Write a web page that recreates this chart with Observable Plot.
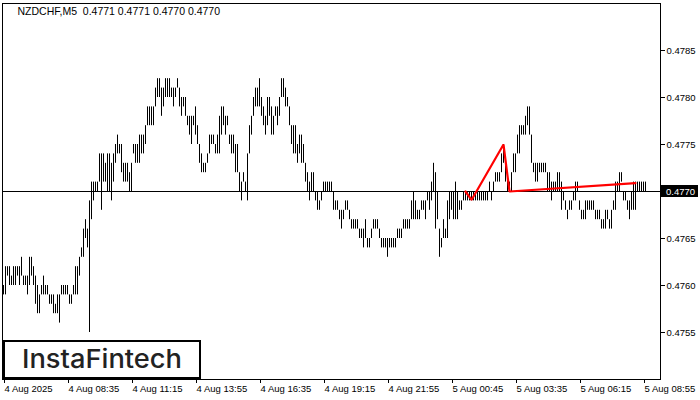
<!DOCTYPE html>
<html>
<head>
<meta charset="utf-8">
<script src="https://cdn.jsdelivr.net/npm/d3@7"></script>
<script src="https://cdn.jsdelivr.net/npm/@observablehq/plot@0.6"></script>
<style>
  html, body { margin: 0; padding: 0; background: #fff; }
  #chart svg { display: block; }
</style>
</head>
<body>
<div id="chart"></div>
<script>
// ---- data (NZDCHF, M5 bars: high / low per bar) ----
const symbolTitle = "NZDCHF,M5";
const lastOHLC = [0.4771, 0.4771, 0.4770, 0.4770];
const currentPrice = 0.4770;

const highs = [
0.4760,0.4762,0.4762,0.4762,0.4761,0.4762,0.4762,0.4762,0.4762,0.4763,
0.4761,0.4761,0.4761,0.4763,0.4763,0.4762,0.4761,0.4760,0.4759,0.4760,
0.4761,0.4760,0.4760,0.4759,0.4759,0.4759,0.4758,0.4759,0.4759,0.4760,
0.4760,0.4760,0.4760,0.4759,0.4759,0.4760,0.4762,0.4762,0.4763,0.4764,
0.4766,0.4767,0.4766,0.4769,0.4771,0.4771,0.4771,0.4771,0.4774,0.4774,
0.4774,0.4773,0.4774,0.4774,0.4773,0.4774,0.4775,0.4776,0.4775,0.4775,
0.4773,0.4773,0.4773,0.4772,0.4773,0.4775,0.4775,0.4775,0.4776,0.4776,
0.4776,0.4777,0.4779,0.4779,0.4779,0.4779,0.4781,0.4782,0.4782,0.4781,
0.4781,0.4782,0.4782,0.4782,0.4781,0.4781,0.4781,0.4782,0.4781,0.4780,
0.4780,0.4780,0.4778,0.4778,0.4778,0.4778,0.4779,0.4777,0.4775,0.4774,
0.4773,0.4773,0.4774,0.4776,0.4776,0.4776,0.4775,0.4776,0.4778,0.4779,
0.4779,0.4778,0.4778,0.4776,0.4776,0.4776,0.4775,0.4775,0.4772,0.4771,
0.4772,0.4771,0.4774,0.4777,0.4778,0.4780,0.4781,0.4781,0.4782,0.4780,
0.4779,0.4778,0.4780,0.4780,0.4779,0.4778,0.4779,0.4779,0.4780,0.4782,
0.4782,0.4781,0.4780,0.4779,0.4777,0.4777,0.4777,0.4775,0.4776,0.4776,
0.4775,0.4773,0.4772,0.4771,0.4772,0.4772,0.4770,0.4770,0.4769,0.4770,
0.4771,0.4771,0.4771,0.4771,0.4771,0.4770,0.4769,0.4769,0.4768,0.4768,
0.4768,0.4769,0.4769,0.4768,0.4767,0.4767,0.4767,0.4767,0.4766,0.4766,
0.4766,0.4767,0.4765,0.4765,0.4766,0.4767,0.4767,0.4767,0.4766,0.4765,
0.4765,0.4765,0.4765,0.4765,0.4765,0.4765,0.4765,0.4766,0.4766,0.4766,
0.4767,0.4767,0.4767,0.4767,0.4769,0.4770,0.4769,0.4768,0.4768,0.4769,
0.4769,0.4769,0.4770,0.4770,0.4771,0.4773,0.4772,0.4770,0.4766,0.4765,
0.4767,0.4766,0.4769,0.4770,0.4770,0.4770,0.4771,0.4770,0.4769,0.4769,
0.4770,0.4770,0.4770,0.4770,0.4770,0.4770,0.4770,0.4770,0.4770,0.4770,
0.4770,0.4770,0.4770,0.4771,0.4770,0.4771,0.4772,0.4772,0.4772,0.4774,
0.4775,0.4773,0.4772,0.4771,0.4772,0.4774,0.4774,0.4776,0.4777,0.4777,
0.4777,0.4778,0.4779,0.4779,0.4776,0.4773,0.4773,0.4773,0.4773,0.4773,
0.4773,0.4773,0.4772,0.4772,0.4771,0.4771,0.4771,0.4772,0.4772,0.4771,
0.4770,0.4769,0.4768,0.4769,0.4769,0.4770,0.4771,0.4771,0.4769,0.4768,
0.4768,0.4769,0.4769,0.4769,0.4769,0.4769,0.4768,0.4768,0.4768,0.4767,
0.4767,0.4768,0.4768,0.4767,0.4768,0.4769,0.4771,0.4771,0.4772,0.4772,
0.4770,0.4770,0.4769,0.4769,0.4770,0.4771,0.4771,0.4771,0.4771,0.4771,
0.4771,0.4771
];

const lows = [
0.4759,0.4759,0.4761,0.4760,0.4760,0.4760,0.4760,0.4761,0.4760,0.4761,
0.4760,0.4760,0.4759,0.4760,0.4761,0.4760,0.4758,0.4757,0.4757,0.4759,
0.4759,0.4759,0.4759,0.4758,0.4758,0.4757,0.4757,0.4757,0.4756,0.4759,
0.4759,0.4759,0.4759,0.4758,0.4758,0.4759,0.4759,0.4759,0.4761,0.4763,
0.4763,0.4765,0.4764,0.4755,0.4767,0.4769,0.4770,0.4770,0.4771,0.4768,
0.4771,0.4771,0.4770,0.4770,0.4769,0.4771,0.4773,0.4774,0.4774,0.4772,
0.4771,0.4771,0.4771,0.4770,0.4770,0.4774,0.4773,0.4773,0.4773,0.4774,
0.4774,0.4775,0.4777,0.4777,0.4777,0.4777,0.4779,0.4780,0.4780,0.4778,
0.4779,0.4780,0.4780,0.4780,0.4780,0.4779,0.4780,0.4781,0.4779,0.4778,
0.4779,0.4778,0.4777,0.4776,0.4775,0.4777,0.4776,0.4775,0.4773,0.4772,
0.4772,0.4772,0.4773,0.4774,0.4775,0.4775,0.4774,0.4774,0.4774,0.4776,
0.4777,0.4776,0.4777,0.4775,0.4774,0.4774,0.4772,0.4772,0.4770,0.4769,
0.4771,0.4770,0.4769,0.4774,0.4776,0.4778,0.4779,0.4779,0.4779,0.4778,
0.4777,0.4776,0.4777,0.4778,0.4776,0.4776,0.4778,0.4777,0.4778,0.4780,
0.4780,0.4779,0.4779,0.4777,0.4775,0.4774,0.4774,0.4773,0.4774,0.4773,
0.4773,0.4771,0.4770,0.4769,0.4770,0.4770,0.4769,0.4768,0.4768,0.4769,
0.4770,0.4770,0.4770,0.4770,0.4770,0.4768,0.4768,0.4768,0.4767,0.4766,
0.4767,0.4768,0.4768,0.4767,0.4766,0.4766,0.4766,0.4766,0.4765,0.4765,
0.4764,0.4765,0.4764,0.4764,0.4765,0.4766,0.4766,0.4766,0.4765,0.4764,
0.4764,0.4764,0.4763,0.4764,0.4764,0.4764,0.4764,0.4765,0.4765,0.4765,
0.4766,0.4766,0.4766,0.4766,0.4767,0.4767,0.4767,0.4767,0.4767,0.4768,
0.4768,0.4767,0.4769,0.4768,0.4769,0.4770,0.4766,0.4767,0.4763,0.4764,
0.4765,0.4765,0.4765,0.4767,0.4768,0.4767,0.4767,0.4767,0.4768,0.4768,
0.4769,0.4769,0.4769,0.4769,0.4769,0.4769,0.4769,0.4769,0.4769,0.4769,
0.4769,0.4769,0.4769,0.4770,0.4769,0.4770,0.4771,0.4771,0.4771,0.4772,
0.4773,0.4771,0.4770,0.4770,0.4770,0.4772,0.4772,0.4774,0.4774,0.4776,
0.4776,0.4776,0.4777,0.4776,0.4773,0.4772,0.4771,0.4771,0.4772,0.4772,
0.4772,0.4772,0.4770,0.4770,0.4769,0.4770,0.4770,0.4770,0.4770,0.4768,
0.4769,0.4768,0.4767,0.4768,0.4768,0.4769,0.4769,0.4770,0.4768,0.4767,
0.4767,0.4767,0.4768,0.4768,0.4768,0.4768,0.4767,0.4767,0.4767,0.4766,
0.4766,0.4766,0.4767,0.4766,0.4766,0.4768,0.4768,0.4770,0.4770,0.4771,
0.4769,0.4769,0.4768,0.4767,0.4768,0.4768,0.4768,0.4770,0.4770,0.4770,
0.4770,0.4770
];

// time-axis ticks (bar index -> label)
const xTickBars = [0, 32, 64, 96, 128, 160, 192, 224, 256, 288, 320];
const xTickLabels = ["4 Aug 2025", "4 Aug 08:35", "4 Aug 11:15", "4 Aug 13:55", "4 Aug 16:35",
  "4 Aug 19:15", "4 Aug 21:55", "5 Aug 00:45", "5 Aug 03:35", "5 Aug 06:15", "5 Aug 08:55"];
const yTicks = [0.4755, 0.4760, 0.4765, 0.4770, 0.4775, 0.4780, 0.4785];

// pattern (red polyline) points: bar index and price
const patternBars = [231, 234, 250, 253, 316];
const patternPrices = [0.4770, 0.47691, 0.4775, 0.4770, 0.47709];

const logoText = "InstaFintech";

// ---- build ----
const bars = highs.map((h, i) => ({ i, high: h, low: lows[i] }));
const pattern = patternBars.map((b, k) => ({ i: b, p: patternPrices[k] }));
const fmt4 = d3.format(".4f");
const titleText = symbolTitle + "  " + lastOHLC.map(fmt4).join(" ");
const FONT = "'Liberation Sans', Arial, sans-serif";

const chart = Plot.plot({
  width: 700,
  height: 400,
  marginTop: 3,
  marginBottom: 21,
  marginLeft: 2,
  marginRight: 40,
  x: { domain: [-0.5, 328.5], axis: null },
  y: { domain: [0.4750, 0.4790], axis: null },
  style: { fontFamily: FONT, fontSize: "9.5px", background: "#fff", color: "#000", overflow: "visible" },
  marks: [
    Plot.ruleY([currentPrice], { stroke: "#000", strokeWidth: 1 }),
    Plot.ruleX(bars, { x: "i", y1: "low", y2: "high", stroke: "#000", strokeWidth: 1 }),
    Plot.line(pattern, { x: "i", y: "p", stroke: "#ff0000", strokeWidth: 2.2, strokeLinejoin: "miter" }),
    Plot.frame({ stroke: "#000", strokeWidth: 1 }),
    Plot.axisY({ anchor: "right", ticks: yTicks, tickFormat: fmt4, tickSize: 4, tickPadding: 2, label: null, fontSize: 9.5 }),
    Plot.axisX({ anchor: "bottom", ticks: xTickBars, tickFormat: d => xTickLabels[xTickBars.indexOf(d)],
      tickSize: 4, tickPadding: 2, textAnchor: "start", dx: 1, label: null, fontSize: 9.5 }),
    Plot.text([titleText], { text: d => d, frameAnchor: "top-left", dx: 15, dy: 4, fontSize: 10.5, fill: "#000", textAnchor: "start" })
  ]
});

document.getElementById("chart").appendChild(chart);

// current price tag on the right axis (covers the 0.4770 tick label)
const svg = d3.select(chart);
const yPx = chart.scale("y").apply(currentPrice);
const tag = svg.append("g").attr("text-anchor", "start");
tag.append("rect").attr("x", 661).attr("y", Math.round(yPx) - 6).attr("width", 37).attr("height", 12).attr("fill", "#000");
tag.append("text").attr("x", 666).attr("y", yPx + 0.5).attr("dy", "0.35em").attr("text-anchor", "start")
  .attr("fill", "#fff").attr("font-family", FONT).attr("font-size", 9.5).text(fmt4(currentPrice));

// logo box
const logo = svg.append("g").attr("text-anchor", "start");
logo.append("rect").attr("x", 4).attr("y", 341).attr("width", 196).attr("height", 37)
  .attr("fill", "#fff").attr("stroke", "#000").attr("stroke-width", 2);
logo.append("text").attr("x", 22).attr("y", 368).attr("text-anchor", "start")
  .attr("font-family", "Inter, 'Open Sans', sans-serif")
  .attr("font-weight", 500).attr("font-size", 26).attr("fill", "#222")
  .attr("textLength", 160).attr("lengthAdjust", "spacingAndGlyphs").text(logoText);
</script>
</body>
</html>
